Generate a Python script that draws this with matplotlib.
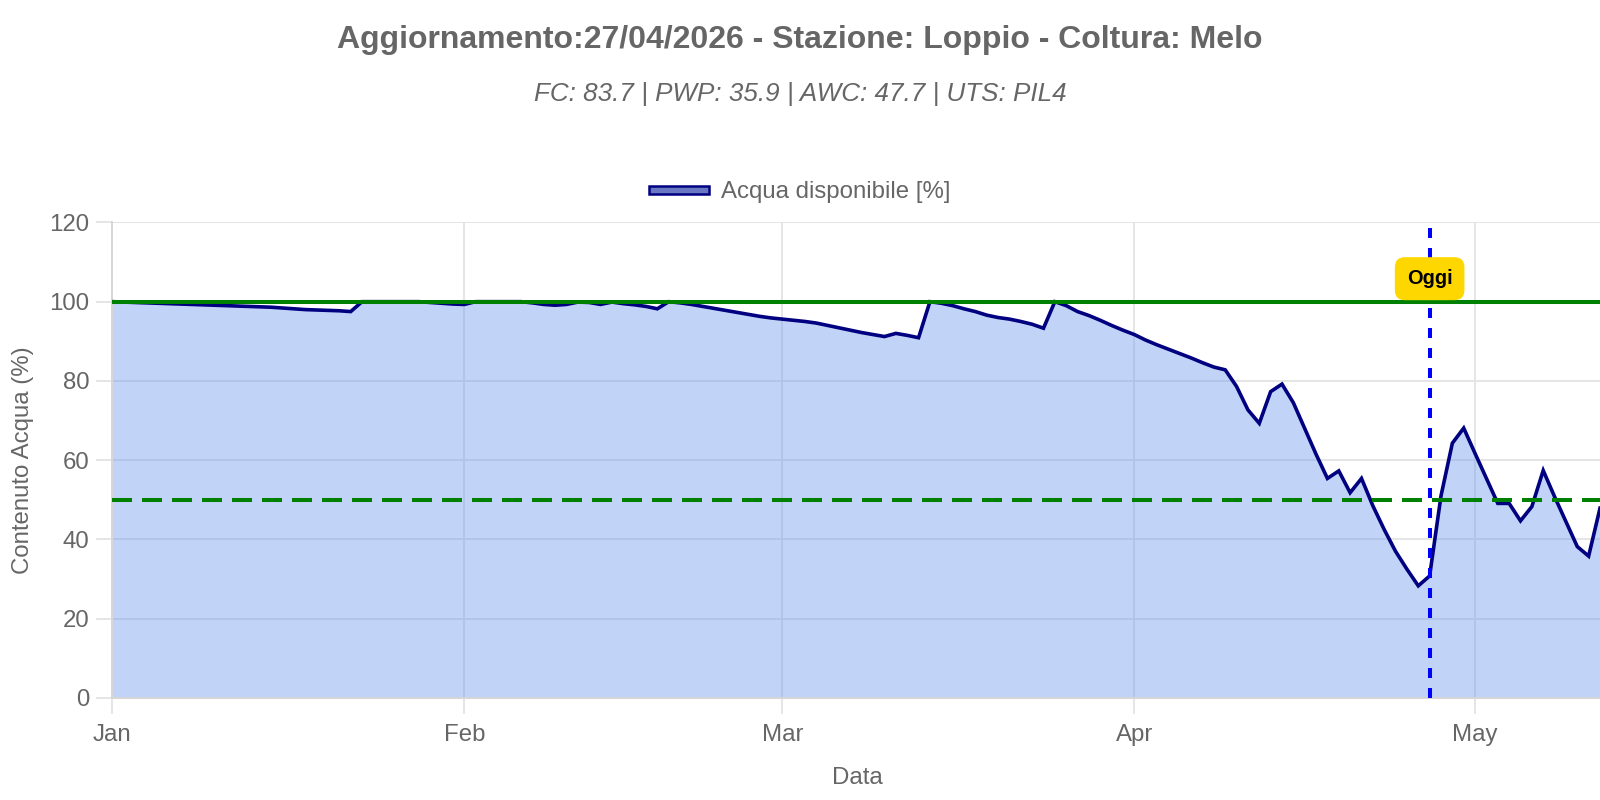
import numpy as np
import pandas as pd
import matplotlib
matplotlib.use('Agg')
from matplotlib import pyplot as plt
import matplotlib.dates as mdates
from matplotlib.patches import Rectangle

plt.rcParams['font.family'] = ['Liberation Sans', 'DejaVu Sans']
plt.rcParams['lines.scale_dashes'] = False

# daily available water [%] from 01/01/2026 to 12/05/2026
acqua_gen = [100.0, 99.9, 99.8, 99.7, 99.6, 99.5, 99.4, 99.3, 99.2, 99.1,
             99.0, 98.9, 98.8, 98.7, 98.6, 98.4, 98.2, 98.0, 97.9, 97.8,
             97.7, 97.5, 100.0, 100.0, 100.0, 100.0, 100.0, 100.0, 99.8, 99.6,
             99.4]
acqua_feb = [99.3, 100.0, 100.0, 100.0, 100.0, 100.0, 99.7, 99.3, 99.1, 99.3,
             99.9, 99.8, 99.3, 99.9, 99.5, 99.2, 98.8, 98.2, 100.0, 99.7,
             99.3, 98.8, 98.3, 97.8, 97.3, 96.8, 96.3, 95.9]
acqua_mar = [95.6, 95.3, 95.0, 94.6, 94.0, 93.4, 92.8, 92.2, 91.7, 91.2,
             92.0, 91.5, 90.9, 100.0, 99.6, 99.0, 98.2, 97.5, 96.6, 96.0,
             95.6, 95.0, 94.3, 93.3, 100.0, 99.0, 97.5, 96.5, 95.3, 94.0,
             92.8]
acqua_apr = [91.7, 90.3, 89.1, 88.0, 86.9, 85.8, 84.6, 83.5, 82.8, 78.6,
             72.7, 69.3, 77.3, 79.2, 74.5, 68.0, 61.5, 55.4, 57.3, 51.8,
             55.4, 48.5, 42.5, 37.0, 32.5, 28.3, 30.8, 51.0, 64.3, 68.1]
acqua_mag = [61.7, 55.4, 49.1, 49.1, 44.7, 48.3, 57.4, 50.8, 44.5, 38.2,
             35.8, 47.9]

acqua = acqua_gen + acqua_feb + acqua_mar + acqua_apr + acqua_mag
date = pd.date_range('2026-01-01', periods=len(acqua), freq='D')

oggi = pd.Timestamp('2026-04-27')
soglia_max = 100
soglia_min = 50

titolo = 'Aggiornamento:27/04/2026 - Stazione: Loppio - Coltura: Melo'
sottotitolo = 'FC: 83.7 | PWP: 35.9 | AWC: 47.7 | UTS: PIL4'
grigio = '#666666'
griglia = '#e5e5e5'

W, H = 1600, 800
fig = plt.figure(figsize=(16, 8), dpi=100)
x0, x1, y0, y1 = 112.2, 1600, 222.4, 698
ax = fig.add_axes([x0 / W, 1 - y1 / H, (x1 - x0) / W, (y1 - y0) / H])

ax.fill_between(date, acqua, 0, color='cornflowerblue', alpha=0.4, lw=0, zorder=2)
ax.plot(date, acqua, color='navy', lw=2.6, zorder=3, solid_joinstyle='miter')
ax.axhline(soglia_max, color='green', lw=2.9, zorder=4)
ax.axhline(soglia_min, color='green', lw=2.9, dashes=(14.4, 7.2), zorder=4)
ax.axvline(oggi, color='blue', lw=2.9, dashes=(7.2, 7.2), zorder=5)
ax.annotate('Oggi', (oggi, 105.8), ha='center', va='center', fontsize=14.4,
            fontweight='bold', color='black', zorder=6,
            bbox=dict(boxstyle='round,pad=0.6,rounding_size=0.5',
                      fc='#ffd700', ec='none'))

ax.set_xlim(date[0], date[-1])
ax.set_ylim(0, 120)
ax.set_yticks(range(0, 121, 20))
ax.xaxis.set_major_locator(mdates.MonthLocator())
ax.xaxis.set_major_formatter(mdates.DateFormatter('%b'))
ax.set_axisbelow(True)
ax.grid(color=griglia, lw=1.44)
ax.tick_params(colors=griglia, labelcolor=grigio, labelsize=17.28,
               length=11.5, width=1.44, pad=4.8)
ax.tick_params(axis='x', pad=7)
for s in ['top', 'right']:
    ax.spines[s].set_visible(False)
for s in ['left', 'bottom']:
    ax.spines[s].set_color('#d6d6d6')
    ax.spines[s].set_linewidth(1.44)

# titles
fig.text(0.5, 1 - 39.7 / H, titolo, ha='center', va='center',
         fontsize=23.04, fontweight='bold', color=grigio)
fig.text(0.5, 1 - 93.8 / H, sottotitolo, ha='center', va='center',
         fontsize=18.72, style='italic', color=grigio)
fig.text(23.5 / W, 1 - 460.5 / H, 'Contenuto Acqua (%)', rotation=90,
         ha='center', va='center', fontsize=17.28, color=grigio)
fig.text(857 / W, 1 - 777.5 / H, 'Data', ha='center', va='center',
         fontsize=17.28, color=grigio)

# legend
fig.patches.append(Rectangle((649 / W, 1 - 194 / H), 60 / W, 8 / H,
                             transform=fig.transFigure, fc='#6a78c4',
                             ec='navy', lw=1.8))
fig.text(721.4 / W, 1 - 192 / H, 'Acqua disponibile [%]', ha='left',
         va='center', fontsize=17.28, color=grigio)

fig.savefig('out.png', dpi=100)
